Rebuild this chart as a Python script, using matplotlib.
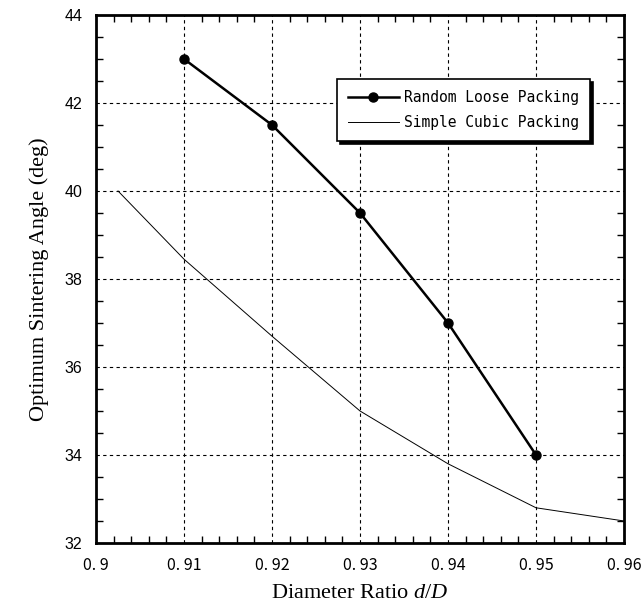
#!/usr/bin/env python3
"""Optimum sintering angle vs diameter ratio for two packing models."""

import matplotlib

matplotlib.use("Agg")
import matplotlib.pyplot as plt
from matplotlib.ticker import MultipleLocator

plt.rcParams["mathtext.fontset"] = "custom"
plt.rcParams["mathtext.rm"] = "Liberation Serif"
plt.rcParams["mathtext.it"] = "Liberation Serif:italic"

# data
loose_ratio = [0.91, 0.92, 0.93, 0.94, 0.95]
loose_angle = [43.0, 41.5, 39.5, 37.0, 34.0]

cubic_ratio = [0.9025, 0.91, 0.92, 0.93, 0.94, 0.95, 0.96]
cubic_angle = [40.0, 38.45, 36.7, 35.0, 33.8, 32.8, 32.5]

x_ticks = [0.90, 0.91, 0.92, 0.93, 0.94, 0.95, 0.96]
x_tick_labels = ["0. 9", "0. 91", "0. 92", "0. 93", "0. 94", "0. 95", "0. 96"]
y_ticks = [32, 34, 36, 38, 40, 42, 44]

fig = plt.figure(figsize=(6.41, 6.09), dpi=100)
ax = fig.add_axes([0.1498, 0.1084, 0.8237, 0.867])

ax.plot(loose_ratio, loose_angle, color="black", lw=1.8, marker="o",
        markersize=6.5, label="Random Loose Packing", zorder=3)
ax.plot(cubic_ratio, cubic_angle, color="black", lw=0.7,
        label="Simple Cubic Packing", zorder=3)

ax.set_xlim(0.90, 0.96)
ax.set_ylim(32, 44)
ax.set_xticks(x_ticks)
ax.set_xticklabels(x_tick_labels, family="Noto Sans CJK JP", fontsize=11.5)
ax.set_yticks(y_ticks)
for lab in ax.get_yticklabels():
    lab.set_family("Liberation Sans")
    lab.set_fontsize(11.5)
ax.xaxis.set_minor_locator(MultipleLocator(0.002))
ax.yaxis.set_minor_locator(MultipleLocator(0.5))

ax.tick_params(which="both", direction="in", top=True, right=True, color="black")
ax.tick_params(which="major", length=0)
ax.tick_params(axis="x", which="major", pad=10)
ax.tick_params(axis="y", which="major", pad=10)
ax.tick_params(which="minor", length=5, width=1)

ax.grid(which="major", color="black", linestyle=(0, (3, 3)), lw=0.8)
for sp in ax.spines.values():
    sp.set_linewidth(2)

ax.set_xlabel(r"Diameter Ratio $\it{d/D}$", family="Liberation Serif", fontsize=16,
              labelpad=7)
ax.set_ylabel("Optimum Sintering Angle (deg)", family="Liberation Serif", fontsize=16,
              labelpad=11)

leg = ax.legend(loc="upper left", bbox_to_anchor=(0.456, 0.879), borderaxespad=0,
                fancybox=False, edgecolor="black", framealpha=1,
                shadow={"color": "black", "alpha": 1},
                prop={"family": "DejaVu Sans Mono", "size": 10.5},
                handlelength=3.5, handletextpad=0.35, borderpad=0.75,
                labelspacing=0.7)
leg.get_frame().set_linewidth(1.2)

fig.savefig("out.png", dpi=100)
